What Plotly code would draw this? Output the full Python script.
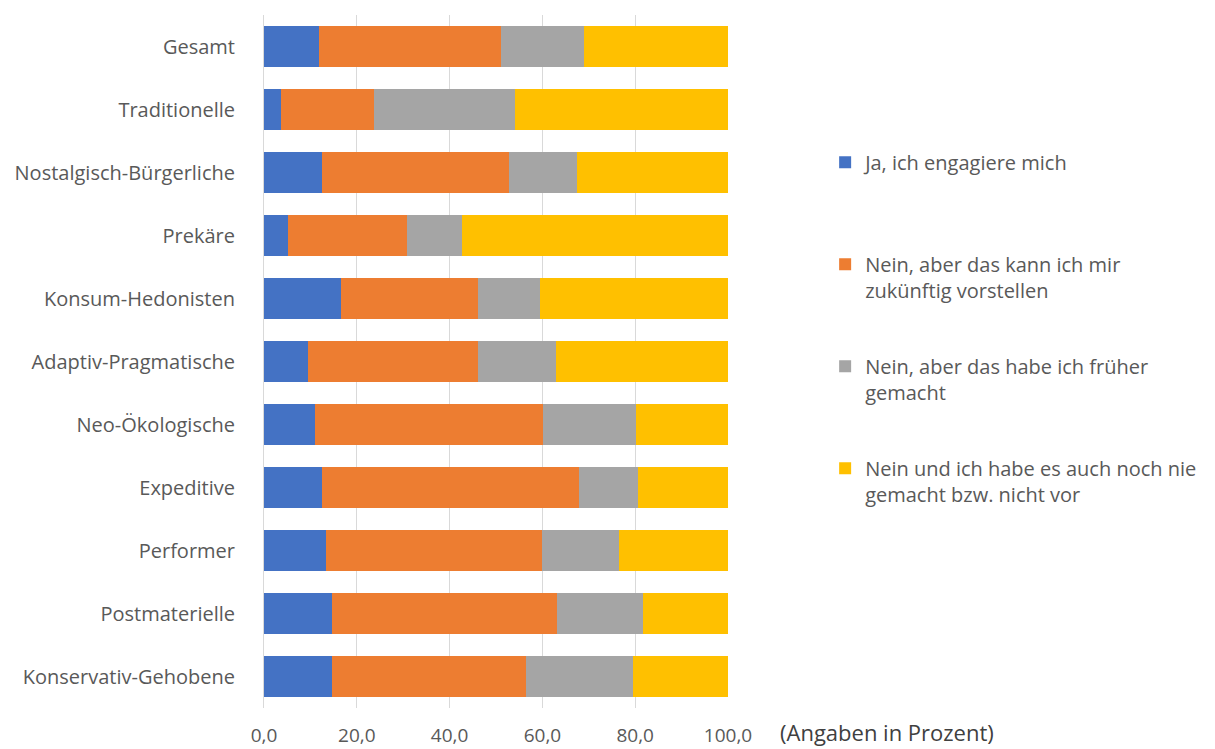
import plotly.graph_objects as go

categories = ["Gesamt", "Traditionelle", "Nostalgisch-Bürgerliche", "Prekäre",
              "Konsum-Hedonisten", "Adaptiv-Pragmatische", "Neo-Ökologische",
              "Expeditive", "Performer", "Postmaterielle", "Konservativ-Gehobene"]

ja = [11.8, 3.6, 12.4, 5.2, 16.6, 9.4, 11.0, 12.4, 13.4, 14.6, 14.6]
nein_zukunft = [39.3, 20.2, 40.4, 25.6, 29.6, 36.8, 49.2, 55.5, 46.6, 48.6, 41.9]
nein_frueher = [17.9, 30.2, 14.7, 11.8, 13.3, 16.7, 20.0, 12.7, 16.5, 18.5, 23.0]
nein_nie = [31.0, 46.0, 32.5, 57.4, 40.5, 37.1, 19.8, 19.4, 23.5, 18.3, 20.5]

series_names = ["Ja, ich engagiere mich<br> ",
                "Nein, aber das kann ich mir<br>zukünftig vorstellen",
                "Nein, aber das habe ich früher<br>gemacht",
                "Nein und ich habe es auch noch nie<br>gemacht bzw. nicht vor"]
series_values = [ja, nein_zukunft, nein_frueher, nein_nie]
colors = ["#4472C4", "#ED7D31", "#A5A5A5", "#FFC000"]

x_ticks = [0, 20, 40, 60, 80, 100]

fig = go.Figure()
for i, (name, vals, col) in enumerate(zip(series_names, series_values, colors)):
    fig.add_trace(go.Bar(
        y=categories, x=vals, name=name, orientation="h",
        marker=dict(color=col, line=dict(width=0)),
        legendgroup=f"g{i}",
    ))

# The page body adds an 8px offset, so the figure is sized to fill the rest.
font_family = "Open Sans, Lato, sans-serif"
fig.update_layout(
    barmode="stack",
    bargap=0.35,
    width=1207, height=741,
    margin=dict(l=256, r=487, t=7, b=41),
    plot_bgcolor="white", paper_bgcolor="white",
    separators=",.",
    font=dict(family=font_family, color="#595959", size=13),
    legend=dict(
        xref="container", yref="container",
        x=0.677, y=0.818, xanchor="left", yanchor="top",
        traceorder="grouped", valign="top",
        tracegroupgap=47,
        maxheight=650,
        font=dict(size=20, color="#595959", family=font_family),
        bgcolor="rgba(0,0,0,0)",
    ),
    showlegend=True,
)
fig.update_xaxes(
    range=[0, 100], tickvals=x_ticks, tickformat=".1f",
    showgrid=True, gridcolor="#D9D9D9", gridwidth=1,
    zeroline=False, showline=False,
    tickfont=dict(size=19, color="#595959"),
    ticklabelstandoff=14,
    automargin=False,
    fixedrange=True,
)
fig.update_yaxes(
    categoryorder="array", categoryarray=categories, autorange="reversed",
    showgrid=False, zeroline=False,
    showline=True, linecolor="#D9D9D9", linewidth=1,
    tickfont=dict(size=20, color="#595959"),
    ticklabelstandoff=24,
    automargin=False,
)
fig.add_annotation(
    text="(Angaben in Prozent)", xref="paper", yref="paper",
    x=1.108, y=-0.035, xanchor="left", yanchor="middle",
    showarrow=False, font=dict(size=22, color="#404040", family=font_family),
)
fig.write_html("out.html")
